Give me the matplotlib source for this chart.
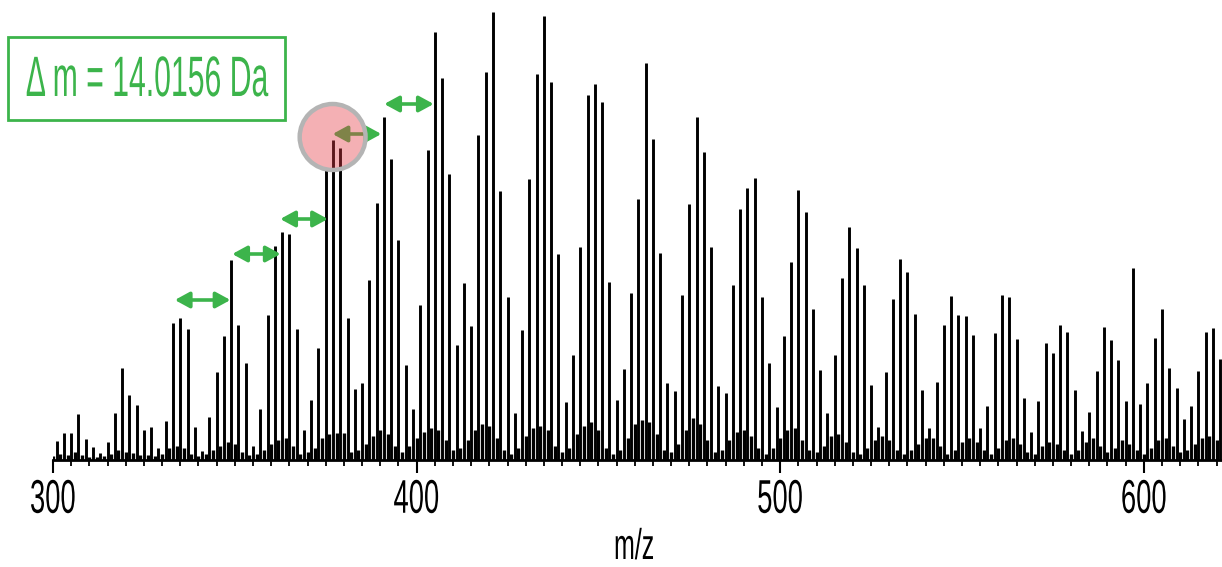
import matplotlib
matplotlib.use("Agg")
import matplotlib.pyplot as plt
from matplotlib.patheffects import AbstractPathEffect
from matplotlib.transforms import Affine2D
from matplotlib.patches import Ellipse, Rectangle
from matplotlib.ticker import MultipleLocator

# ---------------- data ----------------
# main (odd m/z) peaks 301..621
main_mz = list(range(301, 622, 2))
main_int = [
    19, 27, 27, 46, 21, 13, 7, 18, 47, 92,
    65, 55, 30, 33, 12, 39, 137, 142, 131, 33,
    9, 43, 88, 124, 200, 135, 97, 14, 51, 145,
    214, 228, 226, 131, 30, 60, 112, 291, 320, 312,
    142, 71, 77, 180, 257, 343, 301, 220, 95, 51,
    155, 310, 428, 382, 286, 115, 177, 134, 325, 388,
    448, 269, 163, 47, 130, 281, 386, 444, 378, 206,
    58, 105, 213, 365, 376, 358, 178, 60, 91, 167,
    261, 397, 321, 207, 77, 69, 165, 256, 343, 308,
    213, 74, 67, 175, 251, 272, 282, 163, 97, 53,
    124, 198, 270, 248, 151, 90, 47, 105, 182, 233,
    212, 175, 75, 33, 88, 161, 201, 188, 146, 70,
    32, 78, 135, 164, 145, 144, 125, 32, 54, 127,
    165, 163, 121, 62, 28, 59, 117, 107, 135, 128,
    70, 29, 48, 89, 133, 120, 100, 59, 192, 56,
    77, 122, 151, 92, 72, 41, 54, 89, 128, 132,
    101,
]
# minor (even m/z) peaks 300..620 (baseline "grass")
minor_mz = list(range(300, 621, 2))
minor_int = [
    4, 6, 5, 8, 5, 3, 3, 4, 6, 10,
    8, 7, 5, 5, 4, 6, 12, 14, 12, 6,
    4, 6, 10, 14, 18, 16, 8, 5, 6, 10,
    16, 20, 22, 14, 6, 8, 12, 22, 26, 27,
    27, 8, 10, 16, 24, 30, 26, 14, 8, 14,
    22, 28, 32, 30, 20, 10, 12, 20, 30, 36,
    34, 22, 10, 6, 12, 24, 32, 34, 30, 14,
    8, 12, 26, 34, 38, 30, 12, 6, 10, 22,
    36, 40, 38, 26, 10, 8, 16, 30, 42, 36,
    20, 8, 10, 20, 28, 30, 24, 12, 6, 12,
    22, 30, 32, 20, 10, 8, 14, 24, 26, 18,
    8, 6, 12, 20, 24, 20, 10, 6, 10, 16,
    22, 22, 14, 6, 10, 18, 22, 18, 10, 6,
    12, 20, 22, 16, 8, 6, 14, 18, 16, 10,
    6, 10, 18, 22, 14, 8, 12, 20, 16, 10,
    6, 12, 20, 22, 14, 8, 10, 16, 22, 24,
    20,
]
tick_values = [300, 400, 500, 600]
tick_labels = ["300", "400", "500", "600"]

# 14 Da spacing arrows (start m/z, end m/z, height)
arrow_start = [333.5, 349.3, 362.5, 376.9, 391.1]
arrow_end = [348.8, 362.6, 375.6, 390.3, 404.7]
arrow_y = [160, 206, 241, 326, 356]

GREEN = "#3cb44b"


class Condense(AbstractPathEffect):
    """Horizontally condense text glyphs around their centre or left edge."""
    def __init__(self, sx, anchor="center"):
        super().__init__()
        self.sx = sx
        self.anchor = anchor

    def draw_path(self, renderer, gc, tpath, affine, rgbFace=None):
        ext = tpath.get_extents()
        if self.anchor == "left":
            cx = ext.x0
        else:
            cx = (ext.x0 + ext.x1) / 2.0
        t = Affine2D().translate(-cx, 0).scale(self.sx, 1.0).translate(cx, 0) + affine
        renderer.draw_path(gc, tpath, t, rgbFace)


plt.rcParams["font.family"] = ["Liberation Sans", "DejaVu Sans"]

fig = plt.figure(figsize=(12.22, 5.67), dpi=100)
ax = fig.add_axes([53 / 1222, 107 / 567, 1 - 53 / 1222, 455 / 567])

ax.vlines(minor_mz, 0, minor_int, color="black", lw=2.4, zorder=2)
ax.vlines(main_mz, 0, main_int, color="black", lw=2.1, zorder=3)

ax.set_xlim(300, 621.5)
ax.set_ylim(0, 455)

for s in ("top", "right", "left"):
    ax.spines[s].set_visible(False)
ax.spines["bottom"].set_linewidth(2.0)
ax.set_yticks([])
ax.set_xticks(tick_values)
ax.set_xticklabels(tick_labels)
ax.xaxis.set_minor_locator(MultipleLocator(5))
ax.tick_params(axis="x", which="major", length=9.5, width=1.5, pad=4,
               labelsize=34, direction="out")
ax.tick_params(axis="x", which="minor", length=4.0, width=1.3, direction="out")
for lab in ax.get_xticklabels():
    lab.set_path_effects([Condense(0.58)])

# arrows
for xs, xe, yy in zip(arrow_start, arrow_end, arrow_y):
    ax.annotate("", xy=(xe, yy), xytext=(xs, yy),
                arrowprops=dict(arrowstyle="<|-|>,head_length=0.55,head_width=0.3",
                                color=GREEN, lw=2.6, shrinkA=0, shrinkB=0,
                                mutation_scale=16),
                zorder=4)

# highlight circle
circ = Ellipse((376.9, 323), width=2 * 33 / 3.643, height=66,
               facecolor=(228 / 255, 58 / 255, 68 / 255, 0.4),
               edgecolor="#b4b4b4", lw=3.2, zorder=5)
ax.add_patch(circ)

# label box
fig.patches.append(Rectangle((8 / 1222, 447 / 567), 277 / 1222, 83 / 567,
                             transform=fig.transFigure, fill=False,
                             edgecolor=GREEN, lw=2.0))
fig.text(25 / 1222, 471 / 567, "\u0394 m = 14.0156 Da", color=GREEN,
         fontsize=41, ha="left", va="baseline",
         path_effects=[Condense(0.53, anchor="left")])

fig.text(634 / 1222, 8 / 567, "m/z", color="black", fontsize=31,
         ha="center", va="baseline", path_effects=[Condense(0.58)])

fig.savefig("out.png", dpi=100)
